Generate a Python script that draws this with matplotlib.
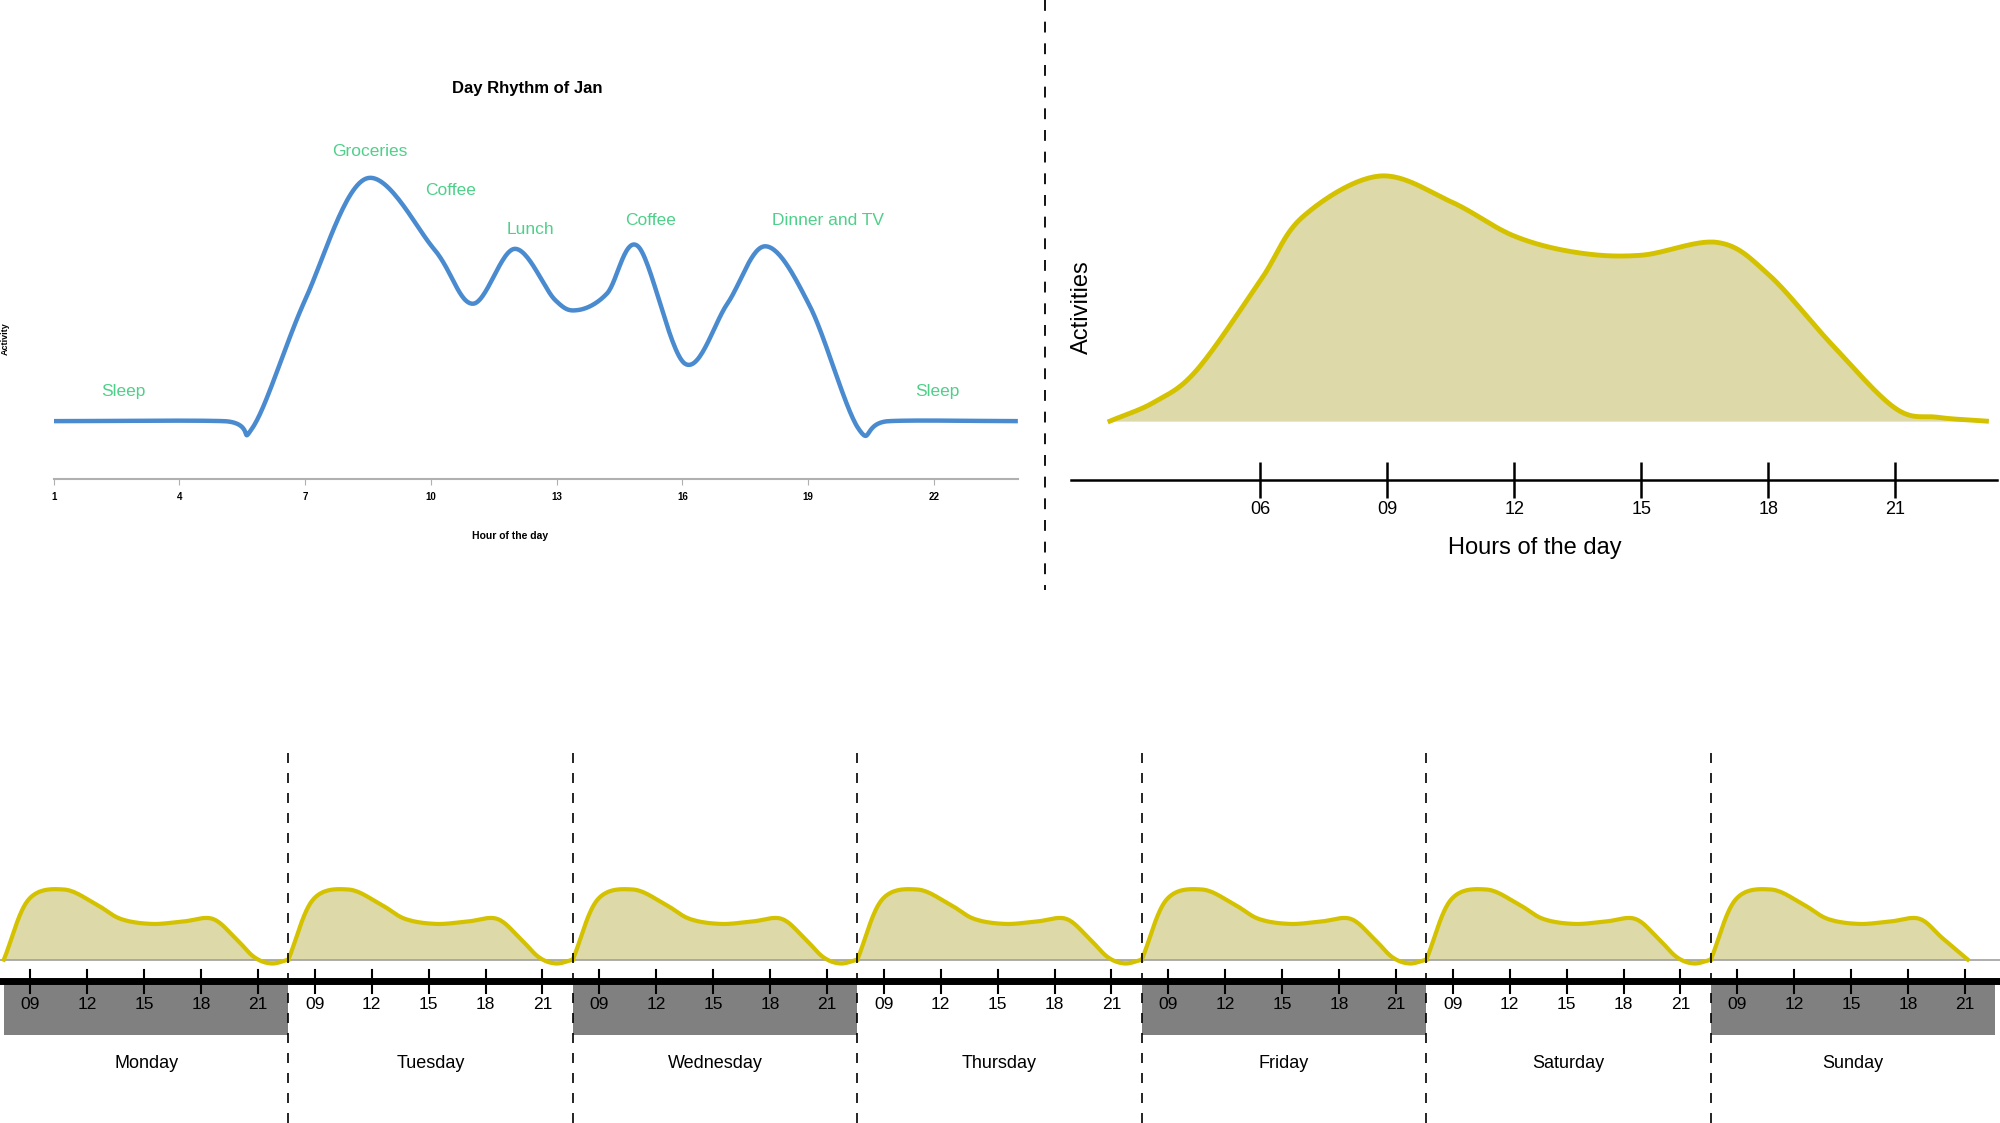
import numpy as np
import matplotlib
matplotlib.use("Agg")
import matplotlib.pyplot as plt
from matplotlib.lines import Line2D

plt.rcParams['font.family'] = ['Liberation Sans', 'DejaVu Sans']

# ---- data ----
jan_hours = [1, 5.05, 5.75, 7.0, 8.45, 10.07, 11.0, 12.0, 12.96, 13.5, 14.2, 14.94, 16.06, 17.07, 17.98, 19.04, 20.2, 20.93, 24]
jan_activity = [0, 0, -0.5, 9.5, 19, 13.5, 9.2, 13.5, 9.5, 8.7, 10, 13.7, 4.5, 9.2, 13.7, 9.0, -0.6, 0, 0]
jan_ticks = [1, 4, 7, 10, 13, 16, 19, 22]
jan_labels = [("Sleep", 2.67, 2.3), ("Groceries", 8.55, 21.1), ("Coffee", 10.46, 18.1),
              ("Lunch", 12.38, 15.0), ("Coffee", 15.24, 15.7), ("Dinner and TV", 19.47, 15.7),
              ("Sleep", 22.09, 2.3)]

avg_hours = [2.45, 3.5, 4.5, 6.0, 7.0, 8.8, 10.5, 12.0, 13.5, 15.0, 16.8, 18.0, 19.5, 21.0, 22.0, 23.15]
avg_activity = [0, 1.5, 4.0, 11.0, 16.0, 19.2, 17.2, 14.5, 13.2, 13.0, 14.0, 11.5, 6.0, 1.0, 0.3, 0]
avg_ticks = [6, 9, 12, 15, 18, 21]

days = ["Monday", "Tuesday", "Wednesday", "Thursday", "Friday", "Saturday", "Sunday"]
day_hours = [7.6, 8.9, 10.75, 12.4, 13.75, 15.4, 17.1, 18.6, 19.8, 20.8, 21.7, 22.6]
day_activity = [0, 47, 55, 44, 32, 28, 30, 32, 17, 2, -3, 0]
sunday_hours = [7.6, 8.9, 10.75, 12.4, 13.75, 15.4, 17.1, 18.6, 19.8, 21.15]
sunday_activity = [0, 47, 55, 44, 32, 28, 30, 32, 17, 0]
week_ticks = [9, 12, 15, 18, 21]
day_start, day_len = 7.6, 15.0


def smooth(xs, ys, n=30):
    xs = np.asarray(xs, float); ys = np.asarray(ys, float)
    px = np.concatenate([[2*xs[0]-xs[1]], xs, [2*xs[-1]-xs[-2]]])
    py = np.concatenate([[2*ys[0]-ys[1]], ys, [2*ys[-1]-ys[-2]]])
    ox, oy = [], []
    for i in range(1, len(px)-2):
        t = np.linspace(0, 1, n, endpoint=False)
        for P, out in ((px, ox), (py, oy)):
            p0, p1, p2, p3 = P[i-1], P[i], P[i+1], P[i+2]
            out.extend(0.5*((2*p1) + (-p0+p2)*t + (2*p0-5*p1+4*p2-p3)*t**2 + (-p0+3*p1-3*p2+p3)*t**3))
    ox.append(xs[-1]); oy.append(ys[-1])
    return np.array(ox), np.array(oy)


W, H = 1568.0, 880.0
fig = plt.figure(figsize=(20, 11.23), dpi=100)

def rect(x0, x1, y0, y1):
    return [x0/W, 1-y1/H, (x1-x0)/W, (y1-y0)/H]

YEL = "#d4c200"
FILL = "#ddd9a8"
GREEN = "#4fd08a"

# ---- top left ----
ax1 = fig.add_axes(rect(42, 798, 100, 375))
sx, sy = smooth(jan_hours, jan_activity)
ax1.plot(sx, sy, color="#4a8bd0", lw=3.2, solid_capstyle='butt')
ax1.set_xlim(1, 24); ax1.set_ylim(-4.5, 23)
for s in ["top", "right", "left"]:
    ax1.spines[s].set_visible(False)
ax1.spines["bottom"].set_color("#b0b0b0"); ax1.spines["bottom"].set_linewidth(1.5)
ax1.set_yticks([])
ax1.set_xticks(jan_ticks)
ax1.tick_params(axis='x', length=4, color="#b0b0b0", labelsize=7, pad=6)
for lab in ax1.get_xticklabels():
    lab.set_fontweight('bold')
ax1.set_xlabel("Hour of the day", fontsize=7.5, fontweight='bold', labelpad=14)
ax1.xaxis.set_label_coords(0.473, -0.15)
ax1.text(12.3, 26.1, "Day Rhythm of Jan", fontsize=12, fontweight='bold', ha='center', va='center', clip_on=False)
ax1.text(-0.05, 0.4, "Activity", transform=ax1.transAxes, rotation=90, fontsize=6.5,
         fontweight='bold', ha='center', va='center')
for t, x, y in jan_labels:
    ax1.text(x, y, t, color=GREEN, fontsize=12.5, ha='center', va='center')

# ---- top right ----
ax2 = fig.add_axes(rect(840, 1566, 100, 376))
sx, sy = smooth(avg_hours, avg_activity)
ax2.fill_between(sx, 0, sy, color=FILL, lw=0)
ax2.plot(sx, sy, color=YEL, lw=3.5)
ax2.set_xlim(1.54, 23.41); ax2.set_ylim(-4.6, 23)
for s in ["top", "right", "left"]:
    ax2.spines[s].set_visible(False)
ax2.spines["bottom"].set_linewidth(1.8)
ax2.set_yticks([])
ax2.set_xticks(avg_ticks)
ax2.set_xticklabels([f"{h:02d}" for h in avg_ticks])
ax2.tick_params(axis='x', direction='inout', length=26, width=1.8, labelsize=13, pad=2)
ax2.set_xlabel("Hours of the day", fontsize=17, labelpad=14)
ax2.text(0.011, 0.49, "Activities", transform=ax2.transAxes, rotation=90, fontsize=17,
         ha='center', va='center')

# ---- top separator ----
fig.add_artist(Line2D([819/W, 819/W], [1, 1-462/H], transform=fig.transFigure,
                      color='black', lw=1.3, ls=(0, (6, 6))))

# ---- bottom week ----
ax3 = fig.add_axes(rect(0, W, 580, 880))
ax3.set_xlim(-3/14.87, (W-3)/14.87)
ax3.set_ylim(-128, 172)
ax3.axis('off')
ax3.axhline(0, color="#a0a0a0", lw=1.2)
ax3.axhline(-17, color="black", lw=5)
for i, d in enumerate(days):
    off = i*day_len - day_start
    hx, hy = (sunday_hours, sunday_activity) if d == "Sunday" else (day_hours, day_activity)
    sx, sy = smooth(np.array(hx) + 0, hy)
    ax3.fill_between(sx + off, 0, sy, color=FILL, lw=0)
    ax3.plot(sx + off, sy, color=YEL, lw=3)
    if i % 2 == 0:
        ax3.add_patch(plt.Rectangle((i*day_len, -59), day_len, 42, color="#808080", lw=0))
    for h in week_ticks:
        ax3.plot([h+off, h+off], [-8, -26], color='black', lw=1.5)
        ax3.text(h+off, -35, f"{h:02d}", ha='center', va='center', fontsize=12.5)
    ax3.text(i*day_len + day_len/2, -81, d, ha='center', va='center', fontsize=13)
    if i > 0:
        ax3.plot([i*day_len]*2, [162, -128], color='black', lw=1.2, ls=(0, (6, 6)))

fig.savefig("out.png", dpi=100)
